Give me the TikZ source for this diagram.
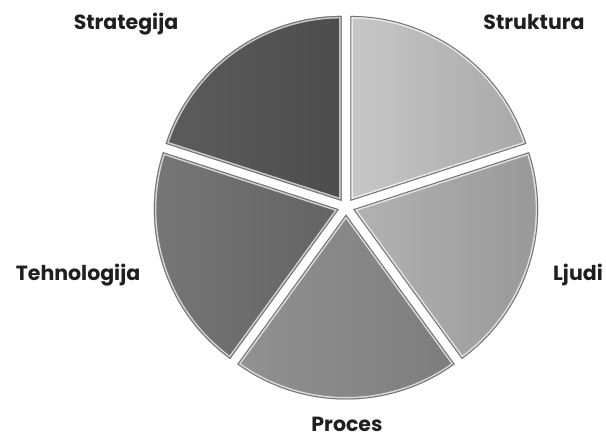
\documentclass[tikz,border=0pt]{standalone}
\usepackage{fontspec}
\setmainfont{Poppins}
\usetikzlibrary{calc}
\tikzset{
  lbl/.style={font=\fontsize{20.5}{24}\selectfont\bfseries, text=black!88, inner sep=0pt},
}
\newcommand\pieslice[5]{%
  \pgfmathsetmacro\slmid{(#2+#3)/2}
  \coordinate (#1) at ($(C)+(\slmid:7.5)$);
  \begin{scope}
    \path[clip] (#1) -- ++(#2:185) arc[start angle=#2,end angle=#3,radius=185] -- cycle;
    \shade[left color=#4,right color=#5] (#1) -- ++(#2:185) arc[start angle=#2,end angle=#3,radius=185] -- cycle;
    \draw[white,opacity=0.7,line width=5,line join=round] (#1) -- ++(#2:185) arc[start angle=#2,end angle=#3,radius=185] -- cycle;
    \draw[black!55,line width=2,line join=round] (#1) -- ++(#2:185) arc[start angle=#2,end angle=#3,radius=185] -- cycle;
  \end{scope}
}
\begin{document}
\begin{tikzpicture}[x=1pt,y=1pt]
\useasboundingbox (0,0) rectangle (606,439);
\fill[white] (0,0) rectangle (606,439);
\coordinate (C) at (346,232);
\pieslice{struktura}{18}{90}{black!22}{black!34}
\pieslice{ljudi}{-54}{18}{black!30}{black!41}
\pieslice{proces}{-126}{-54}{black!43}{black!51}
\pieslice{tehnologija}{162}{234}{black!53}{black!61}
\pieslice{strategija}{90}{162}{black!64}{black!70}
\node[lbl] (tStrategija) at (126,415) {Strategija};
\node[lbl] (tStruktura) at (534,417) {Struktura};
\node[lbl] (tTehnologija) at (78,164) {Tehnologija};
\node[lbl] (tLjudi) at (578,164) {Ljudi};
\node[lbl,anchor=base] (tProces) at (347,7) {Proces};
\end{tikzpicture}
\end{document}
